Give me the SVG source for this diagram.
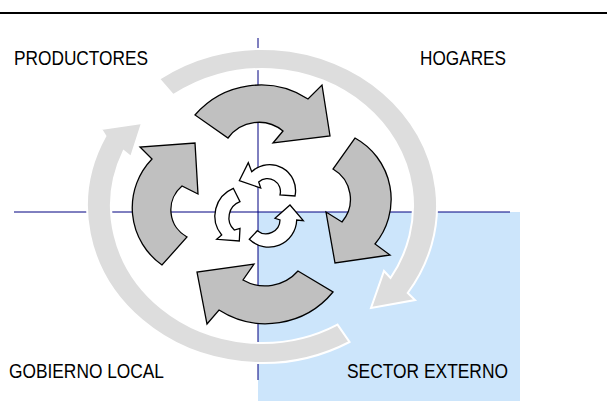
<svg xmlns="http://www.w3.org/2000/svg" width="607" height="413" viewBox="0 0 607 413">
<style>
.lbl{font-family:"Liberation Sans",Arial,sans-serif;font-size:21px;fill:#000}
.ring{fill:#dddddd;stroke:#ffffff;stroke-width:2;stroke-linejoin:miter}
.big{fill:#c0c0c0;stroke:#000;stroke-width:1.3;stroke-linejoin:miter}
.small{fill:#ffffff;stroke:#000;stroke-width:1.3;stroke-linejoin:miter}
.axis{stroke:#000080;stroke-width:1;fill:none}
</style>
<rect width="607" height="413" fill="#ffffff"/>
<line x1="0" y1="13" x2="607" y2="13" stroke="#000" stroke-width="2"/>
<rect id="sector-bg" x="258" y="212" width="262" height="189" fill="#cce5fb"/>
<g id="axes">
<line class="axis" x1="14" y1="212" x2="510" y2="212"/>
<line class="axis" x1="258" y1="38" x2="258" y2="380"/>
</g>
<g id="connectors">
<path id="ring1" class="ring" d="M349.5,342 A175,157 0 0 1 105.4,136 L101,129 L142,123 L131,157 L123.7,151 A151,137 0 0 0 337.5,324.6 Z"/>
<path id="ring2" class="ring" d="M159.1,79 A175,157 0 0 1 407.7,293 L415,300 L371,308 L384,271 L390.5,278 A151,137 0 0 0 173.2,95.2 Z"/>
<path id="bigA" class="big" d="M195,115 A87,87 0 0 1 308,99 L322,85 L330,136 L273,143 L283,131 A38,38 0 0 0 228,138 Z"/>
<path id="bigB" class="big" d="M355,138 A70,70 0 0 1 375,244 L390,255 L335,263 L326,212 L342,222 A35,35 0 0 0 333,169 Z"/>
<path id="bigC" class="big" d="M333,292 A87,87 0 0 1 219,310 L207,324 L197,272 L254,264 L243,280 A44,44 0 0 0 298,271 Z"/>
<path id="bigD" class="big" d="M162,265 A70,70 0 0 1 152,159 L140,147 L195,143 L198,194 L182,186 A31,31 0 0 0 187,237 Z"/>
<path id="small1" class="small" d="M239.3,180.7 L248.3,162.7 L251.7,171.7 A26,26 0 0 1 295,196 L280,195 A13,13 0 0 0 258.7,182 L260.7,188 Z"/>
<path id="small2" class="small" d="M233.3,188.3 A30,30 0 0 0 221.7,235 L216.7,239.3 L239.3,241 L240,228.3 L234.3,230 A17,17 0 0 1 240,201.7 Z"/>
<path id="small3" class="small" d="M249.3,239.3 A28,28 0 0 0 296.7,220 L303.3,220.7 L290,205 L275,218.3 L280,220 A14,14 0 0 1 257.3,230.7 Z"/>
</g>
<g id="productores"><text class="lbl" x="14" y="65" textLength="134" lengthAdjust="spacingAndGlyphs">PRODUCTORES</text></g>
<g id="hogares"><text class="lbl" x="420" y="65" textLength="86" lengthAdjust="spacingAndGlyphs">HOGARES</text></g>
<g id="gobierno"><text class="lbl" x="9" y="378" textLength="155" lengthAdjust="spacingAndGlyphs">GOBIERNO LOCAL</text></g>
<g id="sector"><text class="lbl" x="347" y="378" textLength="161" lengthAdjust="spacingAndGlyphs">SECTOR EXTERNO</text></g>
</svg>
